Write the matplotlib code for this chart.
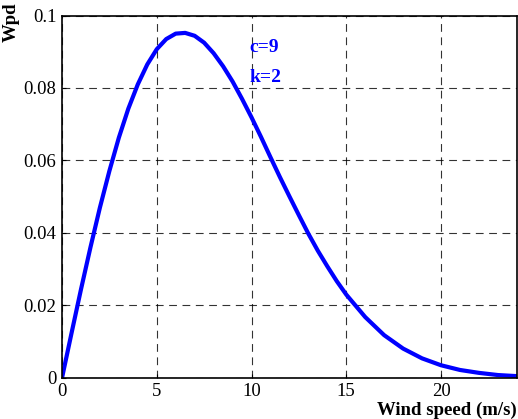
import matplotlib
matplotlib.use('Agg')
import matplotlib.pyplot as plt

# values (wind power density vs wind speed)
wind_speed = [0, 0.5, 1, 1.5, 2, 2.5, 3, 3.5, 4, 4.5, 5, 5.5, 6, 6.5, 7, 7.5, 8, 8.5, 9, 9.5,
	10, 10.5, 11, 11.5, 12, 12.5, 13, 13.5, 14, 14.5, 15, 16, 17, 18, 19, 20, 21, 22, 23, 24]
wpd = [0, 0.0123, 0.0244, 0.0360, 0.0470, 0.0571, 0.0663, 0.0743, 0.0810, 0.0865, 0.0907,
	0.0935, 0.0950, 0.0952, 0.0944, 0.0925, 0.0896, 0.0860, 0.0818, 0.0770,
	0.0719, 0.0665, 0.0609, 0.0554, 0.0501, 0.0449, 0.0398, 0.0351, 0.0308, 0.0267,
	0.0230, 0.0168, 0.0118, 0.0081, 0.0054, 0.0035, 0.0022, 0.0014, 0.0008, 0.0005]

x_ticks = [0, 5, 10, 15, 20]
y_ticks = [0, 0.02, 0.04, 0.06, 0.08, 0.1]
y_tick_labels = ['0', '0.02', '0.04', '0.06', '0.08', '0.1']

plt.rcParams['font.family'] = ['Liberation Serif', 'DejaVu Serif']
plt.rcParams['font.size'] = 13.5

fig = plt.figure(figsize=(5.18, 4.19), dpi=100)
ax = fig.add_axes([0.1197, 0.098, 0.878, 0.865])
ax.plot(wind_speed, wpd, color='#0000ff', linewidth=3, solid_joinstyle='round')

ax.set_xlim(0, 24)
ax.set_ylim(0, 0.1)
ax.set_xticks(x_ticks)
ax.set_yticks(y_ticks)
ax.set_yticklabels(y_tick_labels)
ax.tick_params(direction='in', length=3, width=0.8, pad=4)
ax.grid(True, color='black', linestyle=(0, (7, 5)), linewidth=0.8, alpha=0.8)
for s in ax.spines.values():
	s.set_linewidth(1.2)

ax.text(9.9, 0.0913, 'c=9', color='#0000ff', fontweight='bold', fontsize=14,
	va='center', ha='left')
ax.text(9.9, 0.0828, 'k=2', color='#0000ff', fontweight='bold', fontsize=14,
	va='center', ha='left')

fig.text(0.998, 0.0, 'Wind speed (m/s)', fontweight='bold', ha='right', va='bottom', fontsize=13.5)
fig.text(0.005, 0.995, 'Wpd', fontweight='bold', rotation=90, ha='left', va='top', fontsize=13.5)

fig.savefig('out.png', dpi=100)
